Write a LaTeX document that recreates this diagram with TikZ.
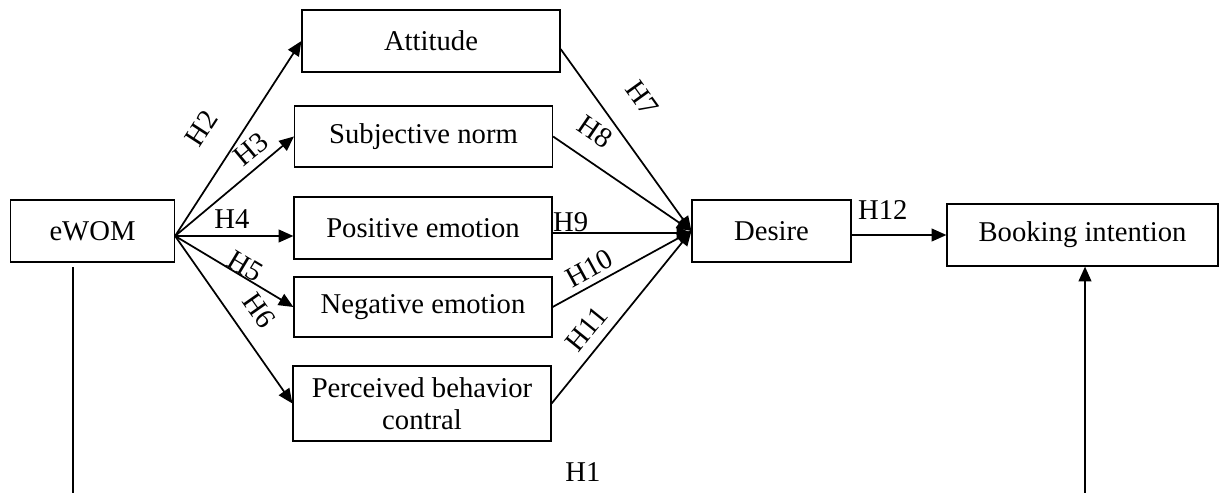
\documentclass[tikz,border=0pt]{standalone}
\usepackage{fontspec}
\setmainfont{Liberation Serif}
\usetikzlibrary{arrows.meta}
\tikzset{
  box/.style={draw, line width=0.9pt, inner sep=0pt, align=center,
    minimum width=193.5pt, minimum height=46.5pt, font=\fontsize{21.5}{24}\selectfont},
  link/.style={line width=1.3pt, -{Triangle[length=11pt,width=9.5pt]}},
  hyp/.style={font=\fontsize{21.5}{24}\selectfont, inner sep=0pt, sloped},
}
\begin{document}
\begin{tikzpicture}[x=0.75pt, y=-0.75pt]
\useasboundingbox (0,0) rectangle (1219,492);
\clip (0,0) rectangle (1219,492);

%constructs
\node[box, minimum width=123pt] (ewom) at (92.5,231) {eWOM};
\node[box] (attitude) at (431,41) {Attitude};
\node[box, minimum height=45.75pt] (subjective) at (423.5,136.5) {Subjective norm};
\node[box] (positive) at (423,228) {Positive emotion};
\node[box, minimum height=45pt] (negative) at (423,307) {Negative emotion};
\node[box, minimum height=56.25pt] (perceived) at (422,403.5) {Perceived behavior\\contral};
\node[box, minimum width=119.25pt] (desire) at (771.5,231) {Desire};
\node[box, minimum width=203.25pt] (booking) at (1082.5,235) {Booking intention};

\coordinate (ew) at ([yshift=-3.75pt]ewom.east);

%eWOM to the mediators
\draw[link] (ew) -- (attitude.west) node[hyp, pos=0.45, above=19.5pt] {H2};
\draw[link] (ew) -- (subjective.west) node[hyp, pos=0.735, above=5.8pt] {H3};
\draw[link] (ew) -- (positive.west |- ew) node[hyp, pos=0.48, above=5pt] {H4};
\draw[link] (ew) -- (negative.west) node[hyp, pos=0.55, above=0pt] {H5};
\draw[link] (ew) -- (perceived.west) node[hyp, pos=0.535, above=12pt] {H6};

%mediators to desire
\draw[link] ([yshift=-6pt]attitude.east) -- (desire.west) node[hyp, pos=0.39, above=20.6pt] {H7};
\draw[link] (subjective.east) -- (desire.west) node[hyp, pos=0.19, above=12.8pt] {H8};
\draw[link] ([yshift=-3.75pt]positive.east) -- ([yshift=-1.5pt]desire.west) node[hyp, pos=0.13, above=0pt] {H9};
\draw[link] (negative.east) -- (desire.west) node[hyp, pos=0.32, above=4.3pt] {H10};
\draw[link] (perceived.east) -- (desire.west) node[hyp, pos=0.36, above=7pt] {H11};

\draw[link] (desire.east |- booking.west) -- (booking.west) node[hyp, pos=0.33, above=11pt] {H12};

%direct path
\node[hyp] (h1) at (583,472) {H1};
\coordinate (left) at (73,500);
\coordinate (right) at (1085,500);
\draw[line width=1.3pt, shorten >=3pt] (left) -- (left |- ewom.south);
\draw[link] (right) -- (right |- booking.south);

\end{tikzpicture}
\end{document}
